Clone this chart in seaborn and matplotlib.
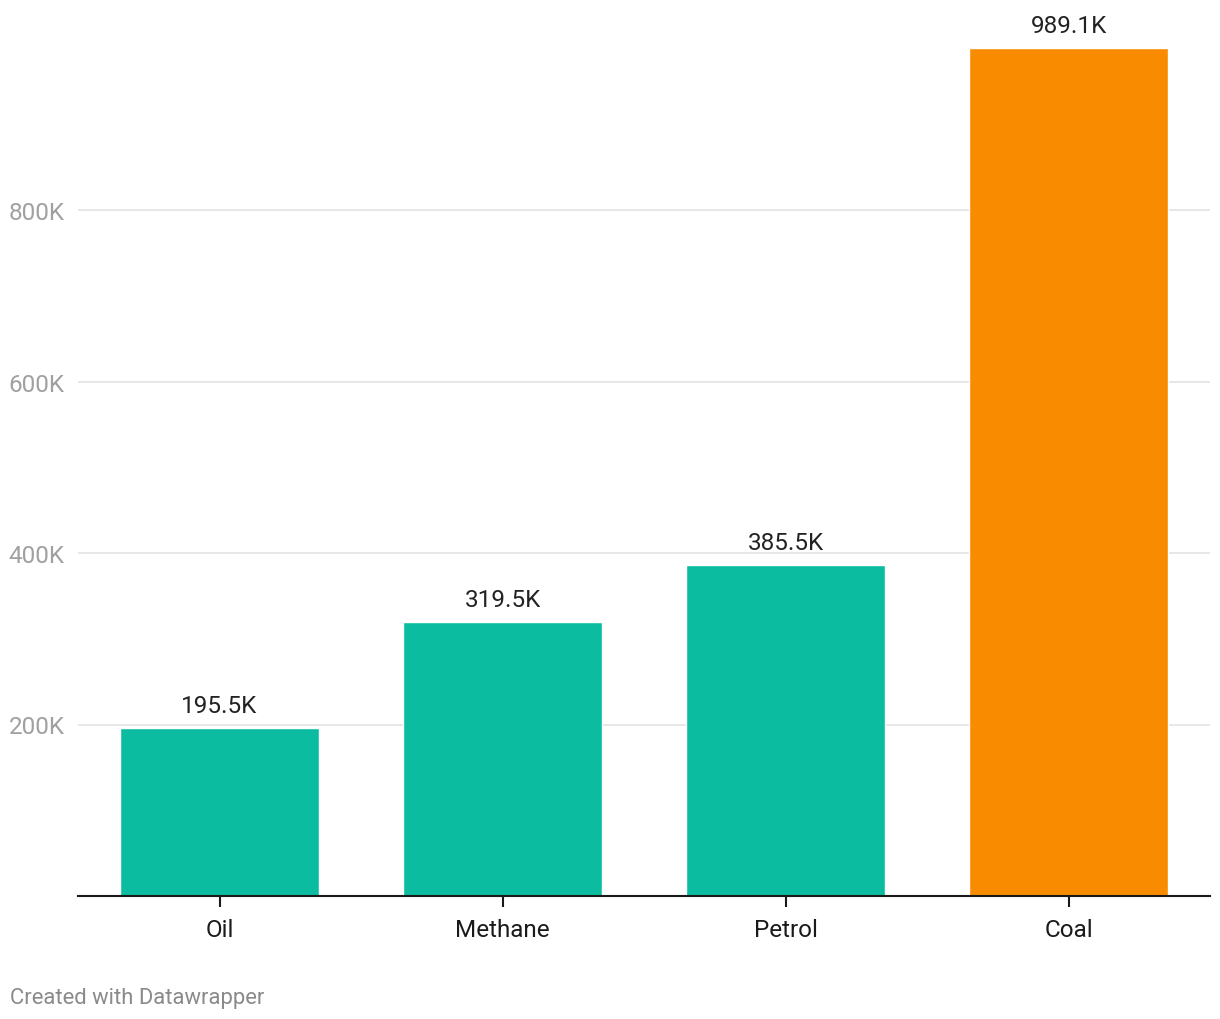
import matplotlib
matplotlib.use("Agg")
import matplotlib.pyplot as plt
import seaborn as sns
import pandas as pd

categories = ["Oil", "Methane", "Petrol", "Coal"]
values = [195500, 319500, 385500, 989100]
labels = ["195.5K", "319.5K", "385.5K", "989.1K"]
colors = ["#0bbca0", "#0bbca0", "#0bbca0", "#f98b00"]
yticks = [200000, 400000, 600000, 800000]
yticklabels = ["200K", "400K", "600K", "800K"]

sns.set_theme(style="white")
plt.rcParams["font.family"] = ["Roboto", "DejaVu Sans"]

df = pd.DataFrame({"cat": categories, "val": values})

fig = plt.figure(figsize=(12.2, 10.2), dpi=100)
base = 897
ax = fig.add_axes([78/1220, 1 - base/1020, (1210-78)/1220, (base-5)/1020])

sns.barplot(data=df, x="cat", y="val", hue="cat", palette=colors, legend=False,
            width=0.7, saturation=1, ax=ax, zorder=3)

ax.set_xlim(-0.5, 3.5)
ax.set_ylim(0, (base - 5) / (171.5 / 200000))
ax.set_yticks(yticks)
ax.set_yticklabels(yticklabels)
ax.grid(axis="y", color="#e3e3e3", linewidth=1.2, zorder=0)
ax.set_axisbelow(True)
for s in ["top", "right", "left"]:
    ax.spines[s].set_visible(False)
ax.spines["bottom"].set_color("#1a1a1a")
ax.spines["bottom"].set_linewidth(1.5)
ax.spines["bottom"].set_zorder(5)
ax.tick_params(axis="y", length=0, pad=9.5, labelsize=17.5, labelcolor="#a0a0a0")
ax.tick_params(axis="x", length=8, width=1.5, color="#1a1a1a", pad=8,
               labelsize=17.5, labelcolor="#1a1a1a", bottom=True)
ax.set_xlabel("")
ax.set_ylabel("")

for i, (v, lab) in enumerate(zip(values, labels)):
    ax.annotate(lab, (i, v), xytext=(0, 8), textcoords="offset points",
                ha="center", va="bottom", fontsize=17.5, color="#222222")

fig.text(10/1220, 1 - 999/1020, "Created with Datawrapper", ha="left", va="center",
         fontsize=15.8, color="#8a8a8a")

fig.savefig("out.png", dpi=100)
